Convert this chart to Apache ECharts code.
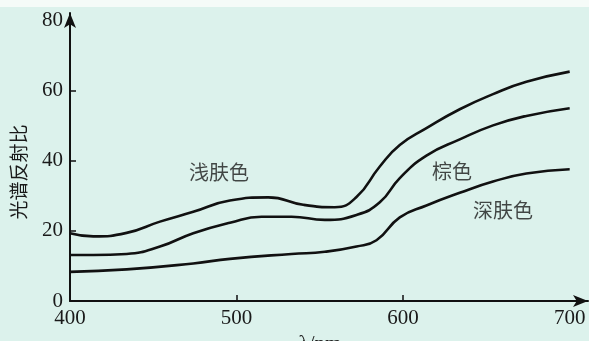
<!DOCTYPE html>
<html>
<head>
<meta charset="utf-8">
<script src="https://cdn.jsdelivr.net/npm/echarts@6/dist/echarts.min.js"></script>
<style>html,body{margin:0;padding:0;background:#dcf2ec;}#c{width:589px;height:341px;}</style>
</head>
<body>
<div id="c"></div>
<script>
// wavelength (nm) and spectral reflectance values
const lightX = [400, 414, 434, 454, 474, 496, 519, 540, 559, 572, 586, 598, 614, 634, 654, 674, 700];
const lightY = [19.3, 18.4, 19.4, 22.6, 25.4, 28.6, 29.5, 27.4, 26.7, 29.6, 38.3, 44.4, 49.2, 54.6, 58.9, 62.4, 65.3];
const brownX = [400, 414, 434, 454, 474, 496, 515, 533, 553, 572, 586, 598, 614, 634, 654, 674, 700];
const brownY = [13.1, 13.1, 13.4, 15.5, 19.3, 22.3, 24.0, 24.0, 23.1, 24.5, 28.1, 35.0, 41.4, 46.0, 50.0, 52.7, 54.9];
const darkX = [400, 434, 474, 496, 533, 553, 572, 584, 598, 614, 634, 654, 674, 700];
const darkY = [8.3, 9.0, 10.7, 12.0, 13.4, 14.0, 15.5, 17.3, 23.8, 27.2, 30.8, 34.0, 36.3, 37.5];
const seriesNames = ['浅肤色', '棕色', '深肤色'];
// annotation anchor points in data space (nm, value)
const annoX = [489.5, 629.3, 660];
const annoY = [36.7, 37.0, 25.9];
const xLabels = [400, 500, 600, 700];
const xTicks = [500, 600];
const yLabels = [0, 20, 40, 60, 80];
const yTicks = [20, 40, 60];

const zip = (a, b) => a.map((v, i) => [v, b[i]]);
const lineStyle = { color: '#111', width: 2.6 };
const serif = '"Liberation Serif", "DejaVu Serif", serif';
const cjk = '"Noto Sans CJK SC", sans-serif';

const chart = echarts.init(document.getElementById('c'), null, { renderer: 'canvas' });
chart.setOption({
  backgroundColor: '#dcf2ec',
  animation: false,
  graphic: [{ type: 'rect', shape: { x: 0, y: 0, width: 589, height: 7 }, style: { fill: '#f5fbf8' }, silent: true }],
  grid: { left: 70, right: 1, top: 13, bottom: 40, containLabel: false, outerBoundsMode: 'none' },
  xAxis: {
    type: 'value', min: 400, max: 711,
    name: 'λ/nm', nameLocation: 'middle', nameGap: 27,
    nameTextStyle: { fontFamily: serif, fontSize: 21, color: '#1a1a1a', padding: [0, 18, 0, 0] },
    axisLine: { lineStyle: { color: '#111', width: 2 }, symbol: ['none', 'arrow'], symbolSize: [9, 15] },
    axisTick: { show: true, inside: true, length: 6, lineStyle: { color: '#111', width: 1.5 }, customValues: xTicks },
    axisLabel: { fontFamily: serif, fontSize: 21, color: '#1a1a1a', margin: 7, customValues: xLabels },
    splitLine: { show: false }
  },
  yAxis: {
    type: 'value', min: 0, max: 82,
    name: '光谱反射比', nameLocation: 'middle', nameGap: 42, nameRotate: 90,
    nameTextStyle: { fontFamily: cjk, fontSize: 19, color: '#1a1a1a', padding: [0, 30, 0, 0] },
    axisLine: { lineStyle: { color: '#111', width: 2 }, symbol: ['none', 'arrow'], symbolSize: [9, 15] },
    axisTick: { show: true, inside: true, length: 6, lineStyle: { color: '#111', width: 1.5 }, customValues: yTicks },
    axisLabel: { fontFamily: serif, fontSize: 21, color: '#1a1a1a', margin: 7, customValues: yLabels },
    splitLine: { show: false }
  },
  series: [
    { name: seriesNames[0], type: 'line', data: zip(lightX, lightY), smooth: 0.5, symbol: 'none', lineStyle },
    { name: seriesNames[1], type: 'line', data: zip(brownX, brownY), smooth: 0.5, symbol: 'none', lineStyle },
    { name: seriesNames[2], type: 'line', data: zip(darkX, darkY), smooth: 0.5, symbol: 'none', lineStyle },
    {
      type: 'scatter', symbolSize: 0, silent: true,
      data: seriesNames.map((n, i) => ({ value: [annoX[i], annoY[i]], name: n })),
      label: { show: true, position: 'inside', formatter: p => p.name, fontFamily: cjk, fontSize: 20, color: '#1a1a1a' }
    }
  ]
});
</script>
</body>
</html>
